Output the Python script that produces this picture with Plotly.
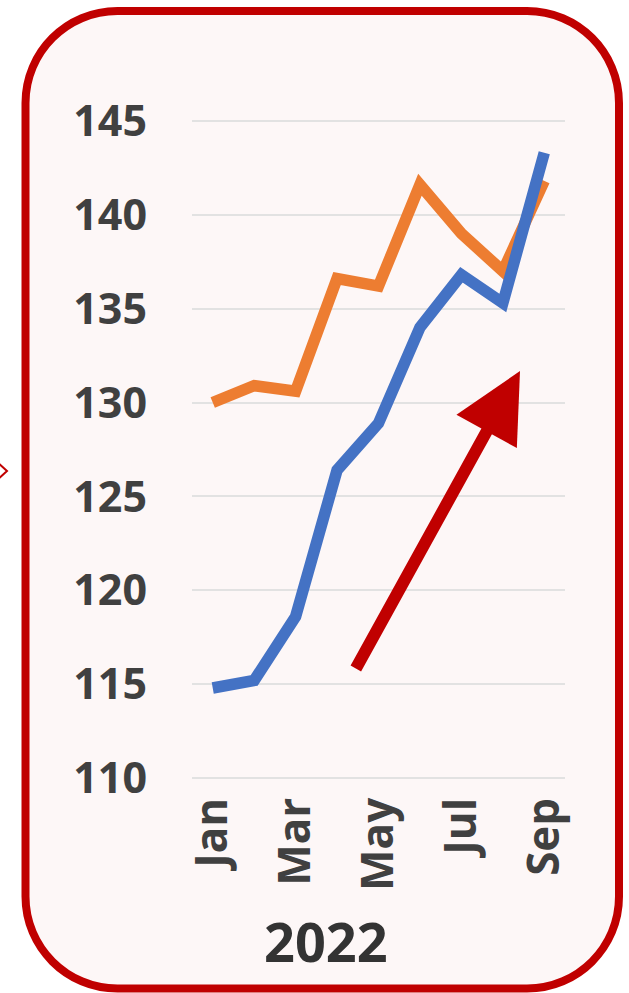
import plotly.graph_objects as go

months = ["Jan", "Feb", "Mar", "Apr", "May", "Jun", "Jul", "Aug", "Sep"]
series_blue = [114.8, 115.2, 118.6, 126.4, 128.9, 134.0, 136.8, 135.3, 143.3]
series_orange = [130.0, 130.9, 130.6, 136.6, 136.2, 141.6, 139.0, 137.0, 141.8]
shown_ticks = ["Jan", "Mar", "May", "Jul", "Sep"]
year_label = "2022"

W, H = 629, 993
ML, MR, MT, MB = 192, 64, 119, 213
PW, PH = W - ML - MR, H - MT - MB


def px(x):
    return (x - ML) / PW


def py(y):
    return 1 - (y - MT) / PH


def rounded_rect(x0, y0, x1, y1, r):
    k = 0.5523 * r
    pts = [
        f"M {px(x0 + r)},{py(y0)}",
        f"L {px(x1 - r)},{py(y0)}",
        f"C {px(x1 - r + k)},{py(y0)} {px(x1)},{py(y0 + r - k)} {px(x1)},{py(y0 + r)}",
        f"L {px(x1)},{py(y1 - r)}",
        f"C {px(x1)},{py(y1 - r + k)} {px(x1 - r + k)},{py(y1)} {px(x1 - r)},{py(y1)}",
        f"L {px(x0 + r)},{py(y1)}",
        f"C {px(x0 + r - k)},{py(y1)} {px(x0)},{py(y1 - r + k)} {px(x0)},{py(y1 - r)}",
        f"L {px(x0)},{py(y0 + r)}",
        f"C {px(x0)},{py(y0 + r - k)} {px(x0 + r - k)},{py(y0)} {px(x0 + r)},{py(y0)}",
        "Z",
    ]
    return " ".join(pts)


fig = go.Figure()
fig.add_trace(go.Scatter(x=months, y=series_orange, mode="lines",
                         line=dict(color="#ED7D31", width=11.5), cliponaxis=False,
                         showlegend=False, hoverinfo="skip"))
fig.add_trace(go.Scatter(x=months, y=series_blue, mode="lines",
                         line=dict(color="#4472C4", width=11.5), cliponaxis=False,
                         showlegend=False, hoverinfo="skip"))

shapes = [
    dict(type="path", xref="paper", yref="paper", layer="below",
         path=rounded_rect(25.5, 11, 619, 988.5, 92),
         fillcolor="#FDF7F7", line=dict(color="#C00000", width=8)),
    dict(type="path", xref="paper", yref="paper", layer="above",
         path=f"M {px(-3)},{py(462)} L {px(7)},{py(471)} L {px(-3)},{py(480)}",
         line=dict(color="#C00000", width=2)),
]

annotations = [
    dict(x=px(520), y=py(371), xref="paper", yref="paper", text="",
         showarrow=True, ax=355 - 520, ay=670 - 371, axref="pixel", ayref="pixel",
         arrowhead=2, arrowsize=1.15, arrowwidth=12, arrowcolor="#C00000",
         standoff=0),
    dict(x=px(326), y=py(941), xref="paper", yref="paper", text=f"<b>{year_label}</b>",
         showarrow=False, xanchor="center", yanchor="middle",
         font=dict(family="Open Sans", size=54, color="#333333")),
    dict(x=px(589), y=py(984), xref="paper", yref="paper", text="6",
         showarrow=False, xanchor="center", yanchor="top",
         font=dict(family="Open Sans", size=20, color="#444444")),
]

fig.update_layout(
    width=W, height=H,
    margin=dict(l=ML, r=MR, t=MT, b=MB),
    paper_bgcolor="white",
    plot_bgcolor="rgba(0,0,0,0)",
    shapes=shapes,
    annotations=annotations,
    xaxis=dict(type="category", categoryorder="array", categoryarray=months,
               tickmode="array", tickvals=shown_ticks, ticktext=shown_ticks,
               tickangle=-90, showgrid=False, zeroline=False, showline=False,
               range=[-0.5, 8.5], ticks="", ticklabelstandoff=8,
               tickfont=dict(family="Open Sans", size=44, color="#404040", weight="bold")),
    yaxis=dict(range=[109.9, 145.1], tickmode="array",
               tickvals=[110, 115, 120, 125, 130, 135, 140, 145],
               showgrid=True, gridcolor="#E2E2E2", gridwidth=2,
               zeroline=False, showline=False, ticks="", ticklabelstandoff=44,
               tickfont=dict(family="Open Sans", size=43, color="#404040", weight="bold")),
)

fig.write_html("out.html", config={"displayModeBar": False},
               post_script="document.body.style.margin='0';document.body.style.padding='0';")
